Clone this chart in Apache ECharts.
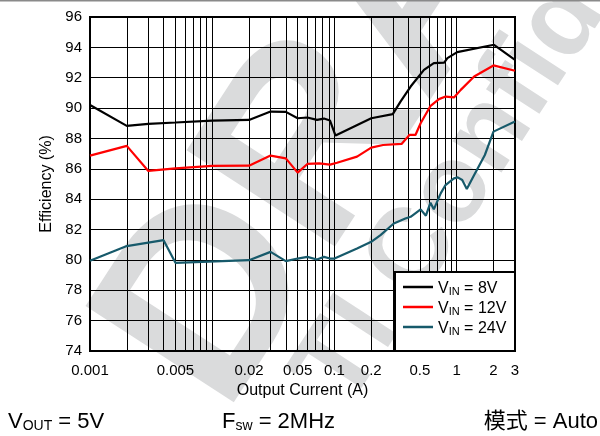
<!DOCTYPE html>
<html>
<head>
<meta charset="utf-8">
<script src="https://cdn.jsdelivr.net/npm/echarts@6/dist/echarts.min.js"></script>
<style>
  html, body { margin: 0; padding: 0; background: #fff; }
  #chart { width: 600px; height: 436px; }
</style>
</head>
<body>
<div id="chart"></div>
<script>
// Efficiency vs. output current, three input voltages
const vinLabels = ['8V', '12V', '24V'];
const lineColors = ['#000000', '#ff0000', '#175a6b'];

const current8 = [0.001, 0.002, 0.003, 0.005, 0.01, 0.02, 0.03, 0.04, 0.05, 0.06, 0.072, 0.082, 0.092, 0.102, 0.2, 0.3, 0.347, 0.42, 0.54, 0.65, 0.79, 0.84, 1.01, 2.02, 3];
const eff8 = [90.2, 88.83, 88.96, 89.05, 89.18, 89.22, 89.77, 89.75, 89.33, 89.38, 89.22, 89.31, 89.18, 88.19, 89.33, 89.6, 90.43, 91.42, 92.52, 92.96, 93.0, 93.29, 93.69, 94.17, 93.18];

const current12 = [0.001, 0.002, 0.003, 0.005, 0.01, 0.02, 0.03, 0.04, 0.05, 0.06, 0.075, 0.092, 0.105, 0.153, 0.2, 0.25, 0.354, 0.41, 0.46, 0.507, 0.612, 0.716, 0.813, 0.95, 1.08, 1.39, 2.0, 3];
const eff12 = [86.87, 87.51, 85.86, 86.03, 86.19, 86.21, 86.87, 86.69, 85.75, 86.32, 86.36, 86.28, 86.4, 86.8, 87.4, 87.57, 87.64, 88.23, 88.23, 89.0, 90.15, 90.59, 90.76, 90.7, 91.2, 92.08, 92.81, 92.46];

const current24 = [0.001, 0.002, 0.004, 0.005, 0.02, 0.03, 0.04, 0.05, 0.06, 0.072, 0.082, 0.092, 0.1, 0.153, 0.2, 0.238, 0.306, 0.38, 0.42, 0.507, 0.56, 0.61, 0.65, 0.74, 0.81, 0.95, 1.02, 1.11, 1.21, 1.39, 1.7, 2.0, 3];
const eff24 = [79.94, 80.91, 81.3, 79.81, 79.98, 80.53, 79.92, 80.09, 80.2, 80.03, 80.2, 80.09, 80.09, 80.75, 81.19, 81.63, 82.4, 82.73, 82.84, 83.33, 82.91, 83.77, 83.33, 84.38, 84.93, 85.37, 85.44, 85.26, 84.67, 85.59, 86.91, 88.45, 89.11];

// x tick labels and log grid positions (1..9 per decade)
const xTickLabels = [0.001, 0.005, 0.02, 0.05, 0.1, 0.2, 0.5, 1, 2, 3];
const xGridValues = [
  0.001, 0.002, 0.003, 0.004, 0.005, 0.006, 0.007, 0.008, 0.009,
  0.01, 0.02, 0.03, 0.04, 0.05, 0.06, 0.07, 0.08, 0.09,
  0.1, 0.2, 0.3, 0.4, 0.5, 0.6, 0.7, 0.8, 0.9,
  1, 2, 3
];
const yMin = 74, yMax = 96, yStep = 2;

const FONT = '"Liberation Sans", Arial, Helvetica, sans-serif';
const CJK_FONT = '"Liberation Sans", "Noto Sans CJK SC", sans-serif';
const WATERMARK = '#dadbdc';
const ROT = 57 * Math.PI / 180;

const seriesX = [current8, current12, current24];
const seriesY = [eff8, eff12, eff24];
const seriesNames = vinLabels.map(v => 'VIN = ' + v);

function fmtNum(v) {
  return String(Number(Number(v).toPrecision(6)));
}

const chart = echarts.init(document.getElementById('chart'), null, { renderer: 'canvas' });

const option = {
  backgroundColor: '#ffffff',
  animation: false,
  textStyle: { fontFamily: FONT },
  grid: {
    left: 90, right: 85, top: 17, bottom: 85,
    show: true, borderColor: '#000', borderWidth: 2,
    backgroundColor: 'transparent'
  },
  xAxis: {
    type: 'log', logBase: 10, min: 0.001, max: 3,
    name: 'Output Current (A)', nameLocation: 'middle', nameGap: 30,
    nameTextStyle: { fontSize: 16, color: '#000', fontFamily: FONT },
    axisLine: { show: false },
    axisTick: { show: false, customValues: xGridValues },
    axisLabel: {
      customValues: xTickLabels, fontSize: 15, color: '#000', margin: 12,
      fontFamily: FONT, formatter: v => fmtNum(v)
    },
    splitLine: { show: true, lineStyle: { color: '#000', width: 1 } }
  },
  yAxis: {
    type: 'value', min: yMin, max: yMax, interval: yStep,
    name: 'Efficiency (%)', nameLocation: 'middle', nameGap: 35,
    nameTextStyle: { fontSize: 16, color: '#000', fontFamily: FONT },
    axisLine: { show: false },
    axisTick: { show: false },
    axisLabel: { fontSize: 15, color: '#000', margin: 8, fontFamily: FONT },
    splitLine: { show: true, lineStyle: { color: '#000', width: 1 } }
  },
  legend: {
    orient: 'vertical', left: 403, top: 281,
    itemWidth: 30, itemHeight: 14, itemGap: 4, padding: 0,
    icon: 'path://M0,0 L30,0 L30,2.5 L0,2.5 Z',
    data: seriesNames,
    formatter: name => {
      const i = seriesNames.indexOf(name);
      return '{v|V}{s|IN}{v| = ' + vinLabels[i] + '}';
    },
    textStyle: {
      color: '#000', fontFamily: FONT,
      rich: {
        v: { fontSize: 16, lineHeight: 20, verticalAlign: 'bottom', fontFamily: FONT, color: '#000' },
        s: { fontSize: 11, lineHeight: 11, verticalAlign: 'bottom', fontFamily: FONT, color: '#000' }
      }
    },
    z: 5
  },
  series: seriesNames.map((name, i) => ({
    name: name,
    type: 'line',
    symbol: 'none',
    showSymbol: false,
    smooth: false,
    clip: true,
    color: lineColors[i],
    lineStyle: { color: lineColors[i], width: 2.2 },
    data: seriesX[i].map((x, k) => [x, seriesY[i][k]]),
    z: 2
  })),
  graphic: [
    // thin rule along the top edge
    { type: 'rect', z: 1, shape: { x: 0, y: 0, width: 600, height: 1.5 }, style: { fill: '#8a8a8a' } },
    // background watermark
    {
      type: 'text', z: -10, x: 165, y: 378, rotation: ROT,
      style: { text: 'DRAFT', font: 'bold 257px ' + FONT, fill: WATERMARK,
               textAlign: 'left', textVerticalAlign: 'middle', align: 'left', verticalAlign: 'middle' }
    },
    {
      type: 'text', z: -10, x: 322, y: 393, rotation: ROT,
      style: { text: 'TI Confidential', font: 'bold 110px ' + FONT, fill: WATERMARK,
               textAlign: 'left', textVerticalAlign: 'middle', align: 'left', verticalAlign: 'middle' }
    },
    // legend frame
    {
      type: 'rect', z: 3, shape: { x: 395, y: 272, width: 120, height: 79 },
      style: { fill: '#fff', stroke: '#000', lineWidth: 2 }
    },
    // operating conditions
    {
      type: 'text', z: 5, x: 8, y: 422,
      style: {
        text: '{m|V}{s|OUT}{m| = 5V}', textVerticalAlign: 'middle', verticalAlign: 'middle',
        rich: {
          m: { fontSize: 22, lineHeight: 22, verticalAlign: 'bottom', fontFamily: FONT, fill: '#000', color: '#000' },
          s: { fontSize: 14, lineHeight: 12, verticalAlign: 'bottom', fontFamily: FONT, fill: '#000', color: '#000' }
        }
      }
    },
    {
      type: 'text', z: 5, x: 222, y: 422,
      style: {
        text: '{m|F}{s|sw}{m| = 2MHz}', textVerticalAlign: 'middle', verticalAlign: 'middle',
        rich: {
          m: { fontSize: 22, lineHeight: 22, verticalAlign: 'bottom', fontFamily: FONT, fill: '#000', color: '#000' },
          s: { fontSize: 14, lineHeight: 12, verticalAlign: 'bottom', fontFamily: FONT, fill: '#000', color: '#000' }
        }
      }
    },
    {
      type: 'text', z: 5, x: 598, y: 422,
      style: {
        text: '模式 = Auto', font: '22px ' + CJK_FONT, fill: '#000',
        textAlign: 'right', align: 'right', textVerticalAlign: 'middle', verticalAlign: 'middle'
      }
    }
  ]
};

chart.setOption(option);
</script>
</body>
</html>
